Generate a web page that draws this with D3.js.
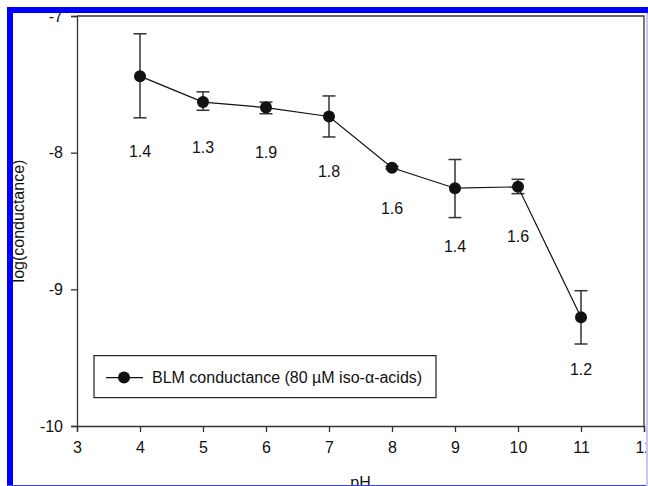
<!DOCTYPE html>
<html>
<head>
<meta charset="utf-8">
<script src="https://cdn.jsdelivr.net/npm/d3@7"></script>
<style>
  body { margin: 0; background: #fff; }
  text { font-family: "Liberation Sans", Arial, sans-serif; fill: #111; }
</style>
</head>
<body>
<div id="canvas"></div>
<script>
const pH = [4, 5, 6, 7, 8, 9, 10, 11];
const logCond = [-7.44, -7.63, -7.67, -7.735, -8.11, -8.26, -8.25, -9.205];
const errUpper = [-7.13, -7.555, -7.63, -7.585, -8.10, -8.05, -8.195, -9.01];
const errLower = [-7.745, -7.69, -7.715, -7.885, -8.12, -8.475, -8.30, -9.40];
const annotations = ["1.4", "1.3", "1.9", "1.8", "1.6", "1.4", "1.6", "1.2"];
const annotY = [-7.99, -7.965, -8.0, -8.14, -8.41, -8.69, -8.615, -9.585];
const xTicks = [3, 4, 5, 6, 7, 8, 9, 10, 11, 12];
const yTicks = [-7, -8, -9, -10];
const seriesName = "BLM conductance (80 \u00b5M iso-\u03b1-acids)";

function generateChart() {
    const margin = { top: 16, right: 4, bottom: 60, left: 77 },
        width = 648 - margin.left - margin.right,
        height = 486 - margin.top - margin.bottom;

    const root = d3.select("#canvas")
        .append("svg")
        .attr("width", 648)
        .attr("height", 486);

    const svg = root.append("g")
        .attr("transform", `translate(${margin.left},${margin.top})`);

    const x = d3.scaleLinear().domain([3, 12]).range([0, width]);
    const y = d3.scaleLinear().domain([-10, -7]).range([height, 0]);

    // frame (top + right)
    svg.append("path")
        .attr("d", `M0,0H${width}V${height}`)
        .attr("fill", "none")
        .attr("stroke", "#333")
        .attr("stroke-width", 1.3);

    // Draw X axis
    const xAxis = svg.append("g")
        .attr("transform", "translate(0," + height + ")")
        .call(d3.axisBottom(x).tickValues(xTicks).tickSize(6).tickPadding(10).tickFormat(d3.format("d")));

    // Draw Y axis
    const yAxis = svg.append("g")
        .call(d3.axisLeft(y).tickValues(yTicks).tickSize(6).tickPadding(8).tickFormat(d => d));

    [xAxis, yAxis].forEach(a => {
        a.select(".domain").attr("stroke", "#333").attr("stroke-width", 1.3);
        a.selectAll(".tick line").attr("stroke", "#333").attr("stroke-width", 1.3);
        a.selectAll(".tick text")
            .attr("font-size", 16)
            .attr("font-family", "Liberation Sans, Arial, sans-serif")
            .attr("fill", "#111");
    });

    const pts = pH.map((p, i) => ({ p, v: logCond[i], hi: errUpper[i], lo: errLower[i], label: annotations[i], ly: annotY[i] }));

    // Error bars
    const eb = svg.append("g").selectAll("g").data(pts).join("g")
        .attr("stroke", "#333")
        .attr("stroke-width", 1.5);
    eb.append("line")
        .attr("x1", d => x(d.p)).attr("x2", d => x(d.p))
        .attr("y1", d => y(d.hi)).attr("y2", d => y(d.lo));
    eb.append("line")
        .attr("x1", d => x(d.p) - 6.5).attr("x2", d => x(d.p) + 6.5)
        .attr("y1", d => y(d.hi)).attr("y2", d => y(d.hi));
    eb.append("line")
        .attr("x1", d => x(d.p) - 6.5).attr("x2", d => x(d.p) + 6.5)
        .attr("y1", d => y(d.lo)).attr("y2", d => y(d.lo));

    // Draw Line
    svg.append("path")
        .datum(pts)
        .attr("fill", "none")
        .attr("stroke", "#111")
        .attr("stroke-width", 1.2)
        .attr("d", d3.line().x(d => x(d.p)).y(d => y(d.v)));

    // Draw Dots
    svg.append("g")
        .selectAll("circle")
        .data(pts)
        .join("circle")
        .attr("cx", d => x(d.p))
        .attr("cy", d => y(d.v))
        .attr("r", 6)
        .attr("fill", "#111");

    // Annotations
    svg.append("g")
        .selectAll("text")
        .data(pts)
        .join("text")
        .attr("x", d => x(d.p))
        .attr("y", d => y(d.ly))
        .attr("text-anchor", "middle")
        .attr("dominant-baseline", "central")
        .attr("font-size", 16)
        .text(d => d.label);

    // Legend
    const lg = svg.append("g").attr("transform", `translate(${x(3.27)},${y(-9.485)})`);
    lg.append("rect")
        .attr("width", 342).attr("height", 42)
        .attr("fill", "#fff")
        .attr("stroke", "#222")
        .attr("stroke-width", 1.2);
    lg.append("line")
        .attr("x1", 12).attr("x2", 49).attr("y1", 22).attr("y2", 22)
        .attr("stroke", "#111").attr("stroke-width", 1.2);
    lg.append("circle").attr("cx", 30).attr("cy", 22).attr("r", 6).attr("fill", "#111");
    lg.append("text")
        .attr("x", 58).attr("y", 22)
        .attr("dominant-baseline", "central")
        .attr("font-size", 16)
        .text(seriesName);

    // Axis titles
    svg.append("text")
        .attr("x", width / 2)
        .attr("y", height + 62)
        .attr("text-anchor", "middle")
        .attr("font-size", 16)
        .text("pH");

    svg.append("text")
        .attr("transform", `translate(${24 - margin.left},${height / 2}) rotate(-90)`)
        .attr("text-anchor", "middle")
        .attr("font-size", 16)
        .text("log(conductance)");

    // Blue border pieces
    root.append("rect").attr("x", 7).attr("y", 7).attr("width", 641).attr("height", 6).attr("fill", "#0000ff");
    root.append("rect").attr("x", 7).attr("y", 7).attr("width", 6).attr("height", 479).attr("fill", "#0000ff");
    root.append("rect").attr("x", 7).attr("y", 485).attr("width", 641).attr("height", 1).attr("fill", "#3344ee");
    root.append("rect").attr("x", 646).attr("y", 13).attr("width", 2).attr("height", 473).attr("fill", "#c8c8f0");
}

generateChart();
</script>
</body>
</html>
